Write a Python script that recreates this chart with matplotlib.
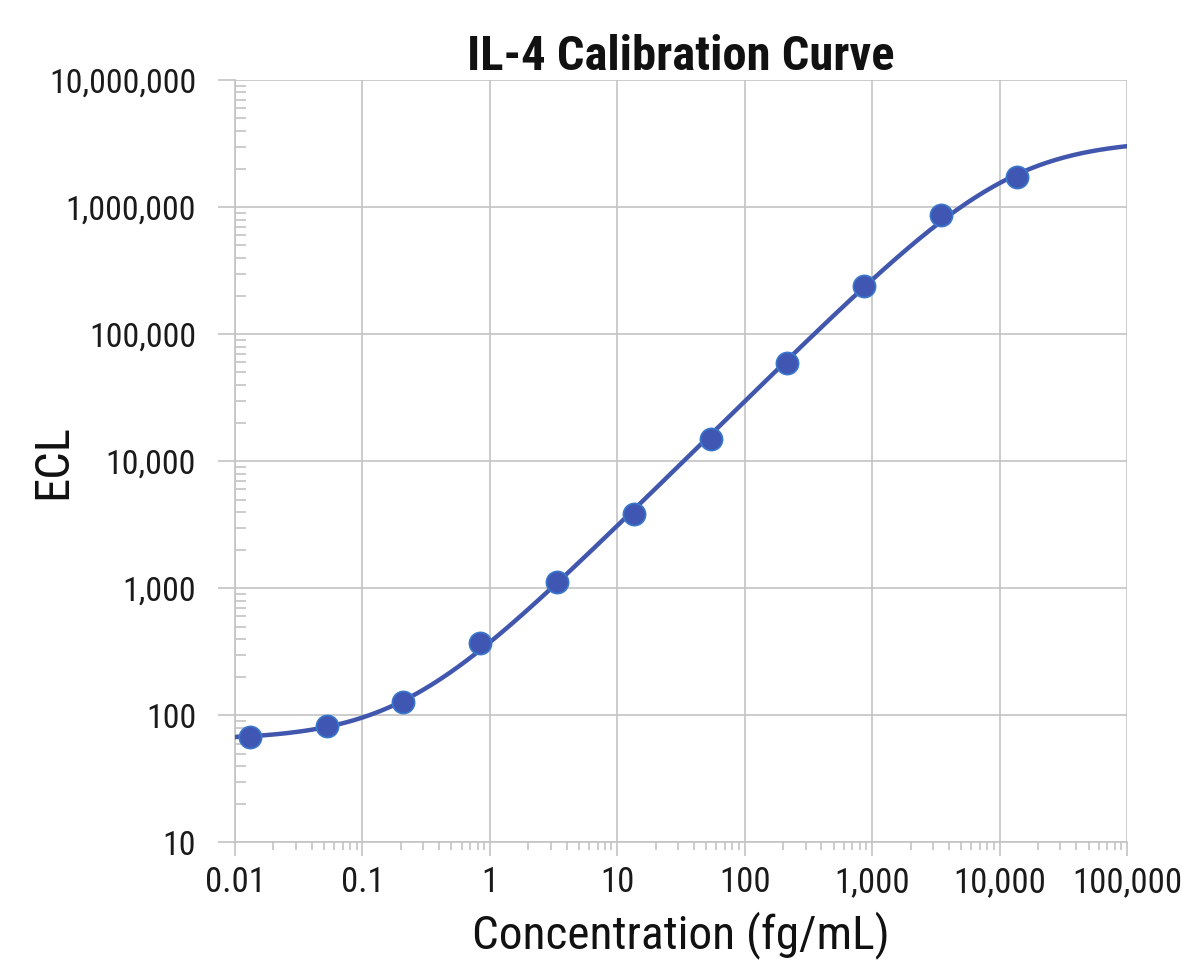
import numpy as np
import matplotlib.pyplot as plt
from matplotlib import font_manager
from matplotlib.ticker import LogLocator, FuncFormatter, NullFormatter

# calibrator concentrations (fg/mL) and measured ECL signal
conc = [0.0132, 0.0526, 0.21, 0.842, 3.37, 13.5, 53.9, 215.6, 862.5, 3450, 13800]
ecl = [67, 82, 127, 374, 1115, 3810, 15070, 59600, 241600, 873000, 1720000]

x_ticks = [0.01, 0.1, 1, 10, 100, 1000, 10000, 100000]
y_ticks = [10, 100, 1000, 10000, 100000, 1000000, 10000000]

# narrow sans fonts, closest to the Arial Narrow look of the original
fonts = font_manager.fontManager.ttflist
names = set(f.name for f in fonts)
bold_names = set(f.name for f in fonts if f.weight in (700, 'bold'))
reg = next((n for n in ['Liberation Sans Narrow', 'Roboto Condensed', 'Archivo Narrow']
            if n in names), 'Liberation Sans')
bold = next((n for n in ['Liberation Sans Narrow', 'Roboto Condensed', 'Archivo Narrow',
                         'Open Sans Condensed', 'Barlow Semi Condensed']
             if n in bold_names), 'Liberation Sans')
plt.rcParams['font.family'] = [reg, 'DejaVu Sans']

line_col = '#4157ad'
dot_col = '#3f57b3'
edge_col = '#3b78cc'
grid_col = '#c4c4c4'


def four_pl(p, x):
    a, b, c, d = 10 ** p[0], p[1], 10 ** p[2], 10 ** p[3]
    return d + (a - d) / (1 + (x / c) ** b)


# 4PL fit in log space (small Levenberg-Marquardt)
xd = np.array(conc, dtype=float)
yd = np.log10(np.array(ecl, dtype=float))
p = np.array([1.8, 1.0, 4.0, 6.5])
lam = 1e-3
for _ in range(200):
    r = yd - np.log10(four_pl(p, xd))
    J = np.zeros((len(xd), 4))
    for k in range(4):
        dp = np.zeros(4)
        dp[k] = 1e-6
        J[:, k] = (np.log10(four_pl(p + dp, xd)) - np.log10(four_pl(p, xd))) / 1e-6
    A = J.T @ J
    step = np.linalg.solve(A + lam * np.diag(np.diag(A)), J.T @ r)
    pn = p + step
    if np.sum((yd - np.log10(four_pl(pn, xd))) ** 2) < np.sum(r ** 2):
        p = pn
        lam *= 0.5
    else:
        lam *= 4

xs = np.logspace(-2, 5, 400)
ys = four_pl(p, xs)

fig = plt.figure(figsize=(11.82, 9.66), dpi=100)
ax = fig.add_axes([0.1988, 0.1280, 0.7547, 0.7890])

ax.plot(xs, ys, color=line_col, lw=3.2, zorder=3)
ax.plot(conc, ecl, 'o', ms=16, color=dot_col, mec=edge_col, mew=1.2, zorder=4, clip_on=False)

ax.set_xscale('log')
ax.set_yscale('log')
ax.set_xlim(0.01, 100000)
ax.set_ylim(10, 10000000)

ax.set_xticks(x_ticks)
ax.set_yticks(y_ticks)
fmt = FuncFormatter(lambda v, pos: ('{:,.2f}'.format(v).rstrip('0').rstrip('.') if v < 1 else '{:,.0f}'.format(v)))
ax.xaxis.set_major_formatter(fmt)
ax.yaxis.set_major_formatter(fmt)
ax.xaxis.set_minor_locator(LogLocator(base=10, subs=np.arange(2, 10), numticks=20))
ax.yaxis.set_minor_locator(LogLocator(base=10, subs=np.arange(2, 10), numticks=20))
ax.xaxis.set_minor_formatter(NullFormatter())
ax.yaxis.set_minor_formatter(NullFormatter())

ax.grid(True, which='major', color=grid_col, lw=1.2)
for s in ax.spines.values():
    s.set_color(grid_col)
    s.set_linewidth(1.2)
ax.spines['right'].set_visible(False)
ax.spines['top'].set_visible(False)

ax.tick_params(axis='x', which='major', direction='out', length=10, width=1.2, color=grid_col,
               labelsize=25, pad=7, labelcolor='#1a1a1a')
ax.tick_params(axis='x', which='minor', direction='out', length=6, width=1.2, color=grid_col)
ax.tick_params(axis='y', which='major', direction='out', length=12, width=1.2, color=grid_col,
               labelsize=24.5, pad=16, labelcolor='#1a1a1a')
ax.tick_params(axis='y', which='minor', direction='in', length=8, width=1.2, color=grid_col)

ax.set_xlabel('Concentration (fg/mL)', fontsize=34, labelpad=9, color='#111111')
ax.set_ylabel('ECL', fontsize=35, color='#111111')
ax.yaxis.set_label_coords(-0.178, 0.5)
ax.set_title('IL-4 Calibration Curve', fontsize=35, fontweight='bold', family=[bold, 'DejaVu Sans'],
             pad=5, color='#111111')

fig.savefig('out.png', dpi=100)
